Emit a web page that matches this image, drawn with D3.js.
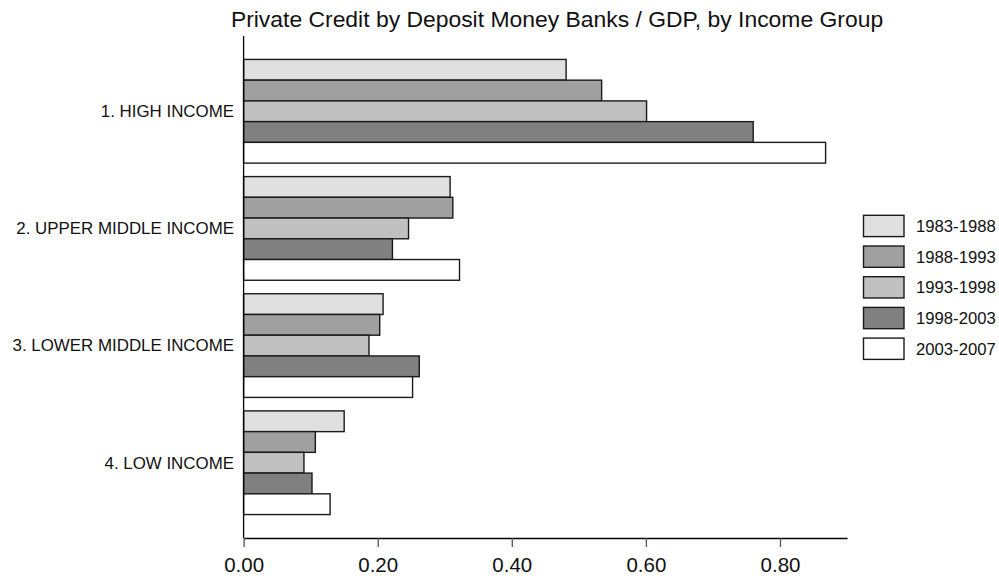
<!DOCTYPE html>
<html><head><meta charset="utf-8">
<script src="https://cdn.jsdelivr.net/npm/d3@7"></script>
<style>body{margin:0;background:#fff}svg{display:block}text{font-family:"Liberation Sans",Arial,sans-serif;fill:#111}</style>
</head><body>
<script>
const categories = ["1. HIGH INCOME","2. UPPER MIDDLE INCOME","3. LOWER MIDDLE INCOME","4. LOW INCOME"];
const periods = ["1983-1988","1988-1993","1993-1998","1998-2003","2003-2007"];
const colors = ["#e0e0e0","#a0a0a0","#c0c0c0","#808080","#ffffff"];
const v1983_1988 = [0.481,0.308,0.208,0.150];
const v1988_1993 = [0.534,0.312,0.203,0.107];
const v1993_1998 = [0.601,0.246,0.187,0.090];
const v1998_2003 = [0.760,0.222,0.262,0.102];
const v2003_2007 = [0.868,0.322,0.252,0.129];
const series = [v1983_1988,v1988_1993,v1993_1998,v1998_2003,v2003_2007];
const xTicks = [0,0.2,0.4,0.6,0.8];
const title = "Private Credit by Deposit Money Banks / GDP, by Income Group";

const W=999,H=581;
const svg=d3.select("body").append("svg").attr("width",W).attr("height",H);
const x=d3.scaleLinear().domain([0,0.9]).range([243.6,243.6+0.9*670.5]);
const y0=d3.scaleBand().domain(categories).range([36,538]).paddingInner(0.115).paddingOuter(0.2);
const y1=d3.scaleBand().domain(periods).range([0,y0.bandwidth()]);

svg.append("text").attr("x",557).attr("y",27).attr("text-anchor","middle").style("font-size","22.9px").text(title);

const g=svg.append("g");
categories.forEach((c,i)=>{
  periods.forEach((p,j)=>{
    g.append("rect").attr("x",x(0)).attr("y",y0(c)+y1(p))
     .attr("width",x(series[j][i])-x(0)).attr("height",y1.bandwidth())
     .attr("fill",colors[j]).attr("stroke","#1a1a1a").attr("stroke-width",1.4);
  });
  svg.append("text").attr("x",234).attr("y",y0(c)+y0.bandwidth()/2).attr("dy","0.35em")
    .attr("text-anchor","end").style("font-size","16.9px").text(c);
});

// y axis line
svg.append("line").attr("x1",x(0)).attr("x2",x(0)).attr("y1",36).attr("y2",538).attr("stroke","#000").attr("stroke-width",1.3);
// x axis
const xa=svg.append("g").attr("transform","translate(0,538)")
  .call(d3.axisBottom(x).tickValues(xTicks).tickFormat(d3.format(".2f")).tickSize(9).tickSizeOuter(0));
xa.select(".domain").attr("stroke","#000").attr("stroke-width",1.3);
xa.selectAll(".tick line").attr("stroke","#555").attr("stroke-width",1.3);
xa.selectAll(".tick text").attr("y",34).attr("dy",0).style("font-size","20.5px").style("font-family","'Liberation Sans',Arial,sans-serif").attr("fill","#111");

// legend
const lg=svg.append("g");
periods.forEach((p,j)=>{
  const yy=215.3+j*30.7;
  lg.append("rect").attr("x",863.5).attr("y",yy).attr("width",40.5).attr("height",21.3)
    .attr("fill",colors[j]).attr("stroke","#1a1a1a").attr("stroke-width",1.4);
  lg.append("text").attr("x",916).attr("y",yy+10.7).attr("dy","0.36em").style("font-size","16.7px").text(p);
});
</script>
</body></html>
